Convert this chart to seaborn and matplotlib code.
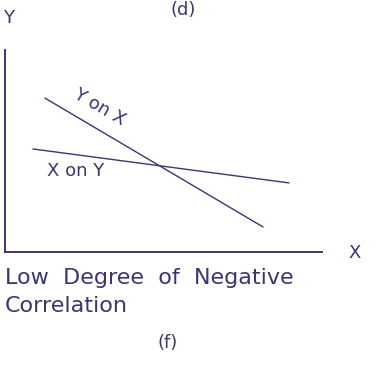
import matplotlib
matplotlib.use("Agg")
import matplotlib.pyplot as plt
import seaborn as sns
import pandas as pd

sns.set_theme(style="white")
plt.rcParams["font.family"] = ["DejaVu Sans"]

INK = "#3a3672"

# Two regression lines (endpoints, in axis units 0-10)
line_names = ["Y on X", "X on Y"]
yx_x = [1.26, 8.14]
yx_y = [7.62, 1.24]
xy_x = [0.88, 8.96]
xy_y = [5.10, 3.42]

caption = "Low  Degree  of  Negative\nCorrelation"
panel_label = "(f)"
top_label = "(d)"

df = pd.DataFrame({
    "x": yx_x + xy_x,
    "y": yx_y + xy_y,
    "line": [line_names[0]] * 2 + [line_names[1]] * 2,
})

W, H = 390, 372
fig = plt.figure(figsize=(W / 100, H / 100), dpi=100)
fig.patch.set_facecolor("white")

# axes box in pixels: left 5, right 322, top 50, bottom 252
l, r, t, b = 5, 322, 50, 252
ax = fig.add_axes([l / W, 1 - b / H, (r - l) / W, (b - t) / H])
ax.set_facecolor("white")

sns.lineplot(data=df, x="x", y="y", units="line", estimator=None,
             color=INK, linewidth=1.0, ax=ax, legend=False)

ax.set_xlim(0, 10)
ax.set_ylim(0, 10)
ax.set_xticks([])
ax.set_yticks([])
ax.set_xlabel("")
ax.set_ylabel("")
for side in ["top", "right"]:
    ax.spines[side].set_visible(False)
for side in ["left", "bottom"]:
    ax.spines[side].set_color(INK)
    ax.spines[side].set_linewidth(1.4)

def px(x, y):
    return x / W, 1 - y / H

fs = 13
fig.text(*px(9, 18), "Y", color=INK, fontsize=fs, ha="center", va="center")
fig.text(*px(355, 253), "X", color=INK, fontsize=fs, ha="center", va="center")
fig.text(*px(183, 1), top_label, color=INK, fontsize=fs, ha="center", va="top")
fig.text(*px(99, 107), line_names[0], color=INK, fontsize=fs, ha="center",
         va="center", rotation=-30, rotation_mode="anchor")
fig.text(*px(76, 171), line_names[1], color=INK, fontsize=fs, ha="center", va="center")
fig.text(*px(5, 268), caption, color=INK, fontsize=16, ha="left",
         va="top", linespacing=1.5)
fig.text(*px(168, 343), panel_label, color=INK, fontsize=fs, ha="center", va="center")

fig.savefig("out.png", dpi=100, facecolor="white")
